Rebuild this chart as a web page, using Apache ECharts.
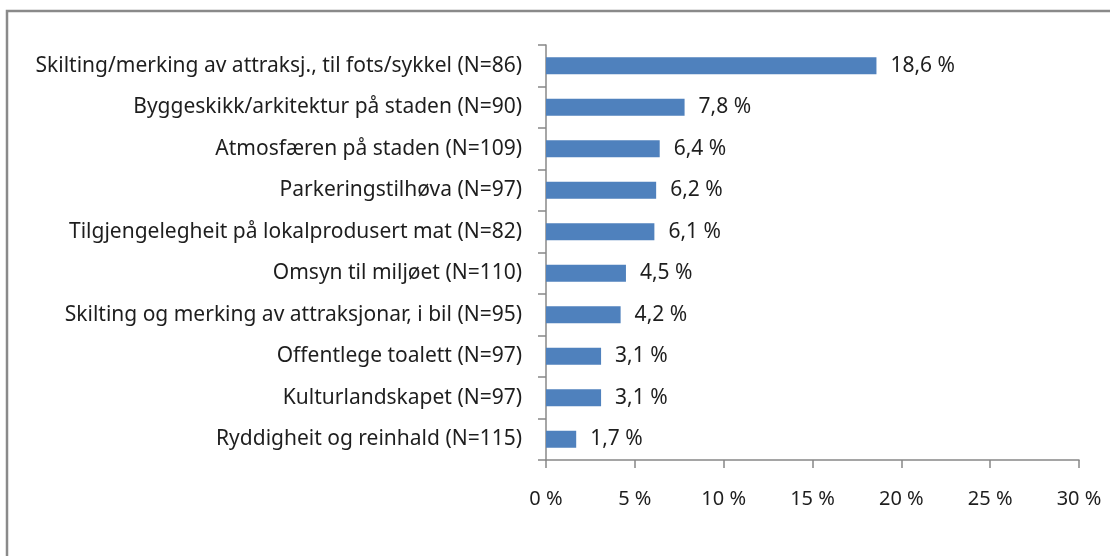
<meta charset="UTF-8"/>
<style type="text/css">
	html, body { margin:0; padding:0; background:#fff; }
	#chart { width:1110px; height:556px; }
</style>
<div id="chart"></div>
<script src="https://cdn.jsdelivr.net/npm/echarts@6/dist/echarts.min.js"></script>
<script type="text/javascript">

var categories = [
	'Skilting/merking av attraksj., til fots/sykkel (N=86)',
	'Byggeskikk/arkitektur på staden (N=90)',
	'Atmosfæren på staden (N=109)',
	'Parkeringstilhøva (N=97)',
	'Tilgjengelegheit på lokalprodusert mat (N=82)',
	'Omsyn til miljøet (N=110)',
	'Skilting og merking av attraksjonar, i bil (N=95)',
	'Offentlege toalett (N=97)',
	'Kulturlandskapet (N=97)',
	'Ryddigheit og reinhald (N=115)'
];
var values = [18.6, 7.8, 6.4, 6.2, 6.1, 4.5, 4.2, 3.1, 3.1, 1.7];
var xTicks = [0, 5, 10, 15, 20, 25, 30];

var fontName = 'Noto Sans';
var textColor = '#1e1e1e';
var axisColor = '#888888';

var myChart = echarts.init(document.getElementById('chart'));

var option = {
	animation: false,
	textStyle: { fontFamily: fontName },
	grid: { left: 546, right: 31, top: 45, bottom: 96 },
	// grey frame round the chart
	graphic: [{
		type: 'rect',
		shape: { x: 7, y: 11, width: 1120, height: 570 },
		style: { fill: 'none', stroke: '#8a8a8a', lineWidth: 2.5 },
		silent: true
	}],
	xAxis: {
		type: 'value',
		min: xTicks[0],
		max: xTicks[xTicks.length - 1],
		interval: 5,
		splitLine: { show: false },
		axisLine: { show: true, lineStyle: { color: axisColor, width: 1.5 } },
		axisTick: { show: true, length: 8, lineStyle: { color: axisColor, width: 1.5 } },
		axisLabel: {
			margin: 29,
			color: textColor,
			fontSize: 20,
			fontFamily: fontName,
			formatter: function (v) { return v + ' %'; }
		}
	},
	yAxis: {
		type: 'category',
		inverse: true,
		data: categories,
		axisLine: { show: true, lineStyle: { color: axisColor, width: 1.5 } },
		axisTick: { show: true, length: 8, lineStyle: { color: axisColor, width: 1.5 } },
		axisLabel: {
			margin: 24,
			color: textColor,
			fontSize: 21,
			fontFamily: fontName
		}
	},
	series: [{
		type: 'bar',
		data: values,
		barWidth: 17,
		itemStyle: { color: '#4f81bd' },
		label: {
			show: true,
			position: 'right',
			distance: 14,
			color: textColor,
			fontSize: 21,
			fontFamily: fontName,
			formatter: function (p) { return String(p.value).replace('.', ',') + ' %'; }
		}
	}]
};

myChart.setOption(option);
</script>
